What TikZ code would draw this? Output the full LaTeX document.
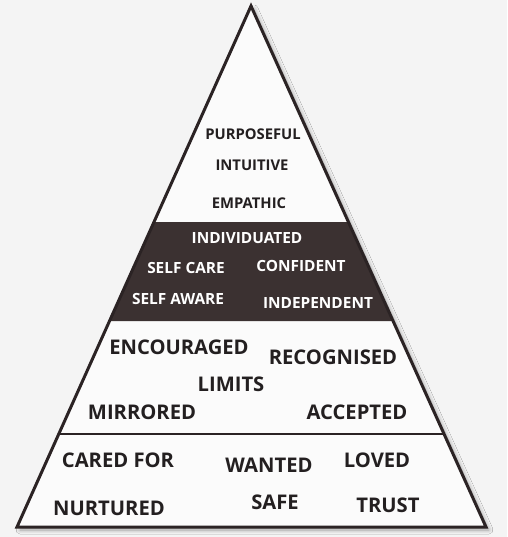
\documentclass[tikz,border=0pt]{standalone}
\usepackage{fontspec}
\setmainfont{Open Sans}
\usepackage{xcolor}
\usepackage{tikz}
\usetikzlibrary{shadows.blur}

\definecolor{pagebg}{HTML}{F4F4F4}
\definecolor{innerbg}{HTML}{FBFBFB}
\definecolor{edgecol}{HTML}{2B2324}
\definecolor{bandcol}{HTML}{3B3131}
\definecolor{wordcol}{HTML}{231F20}

\begin{document}
\begin{tikzpicture}[
    x=1pt, y=-1pt,
    edge/.style={draw=edgecol, line width=3pt, line join=miter},
    divider/.style={draw=edgecol, line width=1.6pt},
    word/.style={font=\fontsize{20.2}{22}\selectfont\bfseries, text=wordcol, inner sep=0pt},
    wordtop/.style={font=\fontsize{14.8}{16}\selectfont\bfseries, text=wordcol, inner sep=0pt},
    wordband/.style={font=\fontsize{15.4}{17}\selectfont\bfseries, text=white, inner sep=0pt}
]
    \useasboundingbox[fill=pagebg] (0,0) rectangle (507,537);

    % outline points
    \coordinate (apex) at (251,6);
    \coordinate (bl) at (17,527);
    \coordinate (br) at (486,527);
    \coordinate (l1) at (154,222);
    \coordinate (r1) at (348,222);
    \coordinate (l2) at (109.5,321);
    \coordinate (r2) at (392.5,321);
    \coordinate (l3) at (59,434);
    \coordinate (r3) at (443,434);

    \fill [innerbg, blur shadow={shadow xshift=3pt, shadow yshift=-3pt, shadow blur steps=8, shadow blur radius=4pt, shadow opacity=35}] (apex) -- (br) -- (bl) -- cycle;
    \fill [bandcol] (l1) -- (r1) -- (r2) -- (l2) -- cycle;
    \draw [divider] (l3) -- (r3);
    \draw [edge] (apex) -- (br) -- (bl) -- cycle;

    % top
    \node [wordtop] (purposeful) at (253,134) {PURPOSEFUL};
    \node [wordtop] (intuitive) at (252,165) {INTUITIVE};
    \node [wordtop] (empathic) at (249,203) {EMPATHIC};

    % dark band
    \node [wordband] (individuated) at (247,238) {INDIVIDUATED};
    \node [wordband] (selfcare) at (186,268) {SELF CARE};
    \node [wordband] (confident) at (301,266) {CONFIDENT};
    \node [wordband] (selfaware) at (178,299) {SELF AWARE};
    \node [wordband] (independent) at (318,303) {INDEPENDENT};

    % third band
    \node [word] (encouraged) at (179,347) {ENCOURAGED};
    \node [word] (recognised) at (333,357) {RECOGNISED};
    \node [word] (limits) at (231,384) {LIMITS};
    \node [word] (mirrored) at (142,412) {MIRRORED};
    \node [word] (accepted) at (357,412) {ACCEPTED};

    % base
    \node [word] (caredfor) at (118,460) {CARED FOR};
    \node [word] (wanted) at (269,465) {WANTED};
    \node [word] (loved) at (377,460) {LOVED};
    \node [word] (nurtured) at (109,508) {NURTURED};
    \node [word] (safe) at (275,502) {SAFE};
    \node [word] (trust) at (388,505) {TRUST};
\end{tikzpicture}
\end{document}
